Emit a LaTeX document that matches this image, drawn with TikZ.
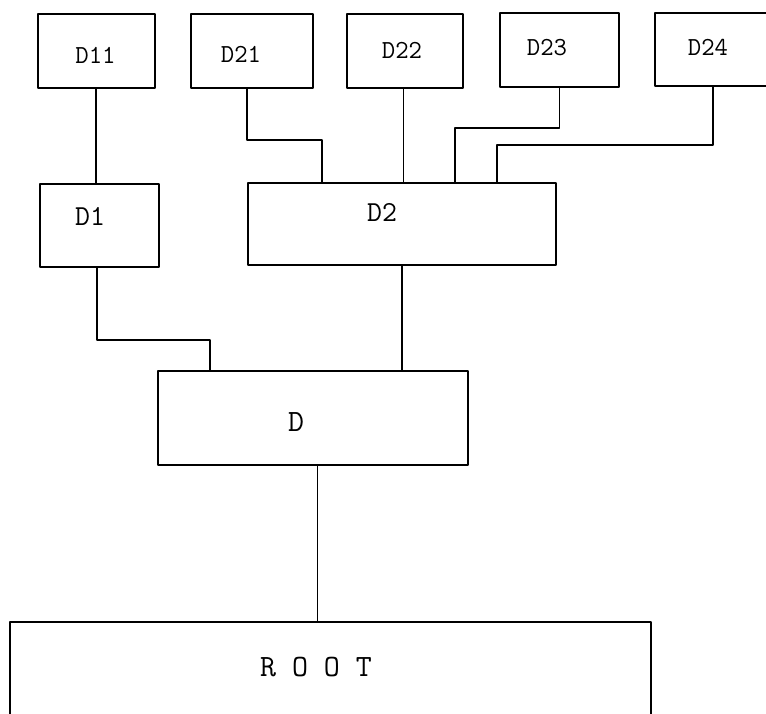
\documentclass[tikz,border=0pt]{standalone}
\usetikzlibrary{positioning}

\begin{document}
\begin{tikzpicture}[x=1pt,y=-1pt,line cap=round,line join=round,
  box/.style={draw,line width=2pt,inner sep=0pt},
  openbox/.style={inner sep=0pt},
  lbl/.style={font=\ttfamily\fontsize{26}{26}\selectfont,inner sep=0pt},
  midlbl/.style={font=\ttfamily\fontsize{29}{29}\selectfont,inner sep=0pt},
  biglbl/.style={font=\ttfamily\fontsize{31}{31}\selectfont,inner sep=0pt},
  wire/.style={line width=1.7pt},
  thinwire/.style={line width=0.9pt}]
\path[use as bounding box] (0,0) rectangle (766,714);
% top row
\node[box,minimum width=117,minimum height=74] (d11) at (96.5,51) {};
\node[box,minimum width=122,minimum height=74] (d21) at (252,51) {};
\node[box,minimum width=116,minimum height=74] (d22) at (405,51) {};
\node[box,minimum width=119,minimum height=74] (d23) at (559.5,50) {};
\node[openbox,minimum width=111,minimum height=73] (d24) at (710.5,49.5) {};
\draw[line width=2pt] (d24.north east) -- (d24.north west) -- (d24.south west) -- (d24.south east);
% middle row
\node[box,minimum width=119,minimum height=83] (d1) at (99.5,225.5) {};
\node[box,minimum width=308,minimum height=82] (d2) at (402,224) {};
\node[box,minimum width=310,minimum height=94] (d) at (313,418) {};
% root, open at the bottom
\node[openbox,minimum width=641.5,minimum height=92] (root) at (330.5,668) {};
\draw[line width=2pt] (root.south west) -- (root.north west) -- (root.north east) -- (root.south east);
% labels
\node[lbl] (d11lbl) at (95.5,55) {D11};
\node[lbl] (d21lbl) at (241,54) {D21};
\node[lbl] (d22lbl) at (402,50) {D22};
\node[lbl] (d23lbl) at (547,48) {D23};
\node[lbl] (d24lbl) at (708,47) {D24};
\node[midlbl] (d1lbl) at (90,216) {D1};
\node[midlbl] (d2lbl) at (382,212) {D2};
\node[biglbl] (dlbl) at (296,422) {D};
\node[biglbl] (rootlbl) at (316,667) {R O O T};
% connectors
\draw[wire] (d11.south -| 96,0) -- (d1.north -| 96,0);
\draw[wire] (d21.south -| 247,0) |- (322,140) -- (d2.north -| 322,0);
\draw[thinwire] (d22.south -| 403,0) -- (d2.north -| 403,0);
\draw[wire] (d23.south) |- (455,128) -- (d2.north -| 455,0);
\draw[wire] (d24.south -| 713,0) |- (497,145) -- (d2.north -| 497,0);
\draw[wire] (d1.south -| 97,0) |- (210,340) -- (d.north -| 210,0);
\draw[wire] (d2.south) -- (d2.south |- d.north);
\draw[thinwire] (d.south -| 317,0) -- (root.north -| 317,0);
\end{tikzpicture}
\end{document}
